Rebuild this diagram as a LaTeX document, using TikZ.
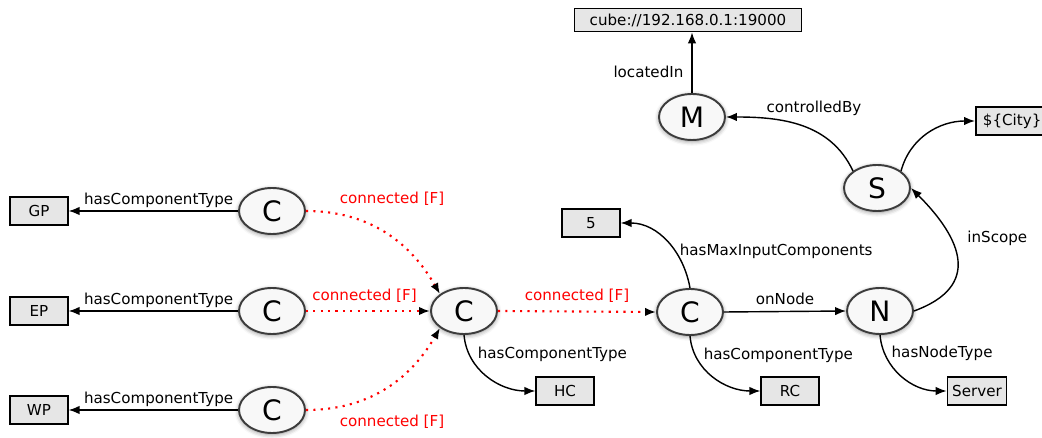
\documentclass[tikz,border=0pt]{standalone}
\usepackage{fontspec}
\setmainfont{DejaVu Sans}
\usepackage{tikz}
\usetikzlibrary{arrows.meta,positioning,shapes.geometric,shadows.blur}
\definecolor{entborder}{RGB}{60,60,60}
\definecolor{entfill}{RGB}{248,248,248}
\definecolor{litfill}{RGB}{230,230,230}
\definecolor{connred}{RGB}{255,0,0}
\tikzset{
  ent/.style={ellipse, draw=entborder, line width=1.1pt, fill=entfill,
    minimum width=1.32cm, minimum height=0.92cm, inner sep=0pt,
    font=\fontsize{16}{18}\selectfont,
    blur shadow={shadow xshift=0pt, shadow yshift=-0.8pt, shadow blur radius=2.5pt, shadow opacity=45}},
  lit/.style={rectangle, draw=black, line width=1pt, fill=litfill,
    minimum width=1.15cm, minimum height=0.57cm, inner sep=2pt,
    font=\fontsize{8.6}{10}\selectfont},
  rel/.style={font=\fontsize{8.6}{10}\selectfont, inner sep=1.5pt},
  link/.style={-{Latex[length=2.2mm,width=1.7mm]}, line width=0.8pt},
  conn/.style={-{Latex[length=2.2mm,width=1.7mm,color=black]}, draw=connred,
    line width=1.2pt, dash pattern=on 1.2pt off 3pt},
  connlbl/.style={rel, text=connred},
}
\begin{document}
\begin{tikzpicture}
  \useasboundingbox (0,0) rectangle (20.84,-8.76);
  % literal boxes
  \node[lit, minimum width=4.54cm, minimum height=0.46cm] (cube) at (13.76,-0.40) {cube://192.168.0.1:19000};
  \node[lit, anchor=west, minimum width=1.45cm] (city) at (19.50,-2.42) {\$\{City\}};
  \node[lit] (five) at (11.82,-4.46) {5};
  \node[lit] (gp) at (0.78,-4.22) {GP};
  \node[lit] (ep) at (0.78,-6.22) {EP};
  \node[lit] (wp) at (0.78,-8.20) {WP};
  \node[lit] (hc) at (11.30,-7.82) {HC};
  \node[lit] (rc) at (15.80,-7.82) {RC};
  \node[lit, minimum width=1.18cm] (server) at (19.54,-7.82) {Server};
  % entities
  \node[ent] (m) at (13.84,-2.34) {M};
  \node[ent] (s) at (17.54,-3.76) {S};
  \node[ent] (ca) at (5.44,-4.22) {C};
  \node[ent] (cb) at (5.44,-6.22) {C};
  \node[ent] (cc) at (5.44,-8.20) {C};
  \node[ent] (cmid) at (9.28,-6.22) {C};
  \node[ent] (cr) at (13.80,-6.24) {C};
  \node[ent] (n) at (17.60,-6.22) {N};
  % component types
  \draw[link] (ca) -- node[rel, above, xshift=3pt] {hasComponentType} (gp);
  \draw[link] (cb) -- node[rel, above, xshift=3pt] {hasComponentType} (ep);
  \draw[link] (cc) -- node[rel, above, xshift=3pt] {hasComponentType} (wp);
  % connections
  \draw[conn] (ca.east) to[out=0, in=120] node[connlbl, pos=0.05, anchor=south west, xshift=12pt, yshift=1pt] {connected [F]} (cmid.north west);
  \draw[conn] (cb.east) -- node[connlbl, above=3pt, xshift=-2pt] {connected [F]} (cmid.west);
  \draw[conn] (cc.east) to[out=0, in=-120] node[connlbl, pos=0.05, anchor=north west, xshift=12pt, yshift=-1pt] {connected [F]} (cmid.south west);
  \draw[conn] (cmid.east) -- node[connlbl, above=3pt] {connected [F]} (cr.west);
  \draw[link] (cmid.south) to[out=-85, in=180] node[rel, pos=0.2, anchor=west, xshift=3pt] {hasComponentType} (hc.west);
  % right part
  \draw[link] (cr.north) to[out=100, in=0] node[rel, pos=0.38, anchor=west, xshift=1pt] {hasMaxInputComponents} (five.east);
  \draw[link] (cr.south) to[out=-85, in=180] node[rel, pos=0.2, anchor=west, xshift=3pt] {hasComponentType} (rc.west);
  \draw[link] (cr.east) -- node[rel, above=2pt] {onNode} (n.west);
  \draw[link] (n.south) to[out=-85, in=180] node[rel, pos=0.2, anchor=west, xshift=2pt] {hasNodeType} (server.west);
  \draw[link] (n.east) to[out=20, in=-45, looseness=1.5] node[rel, pos=0.66, anchor=west, xshift=8pt] {inScope} (s.east);
  \draw[link] (s.north west) to[out=115, in=0] node[rel, pos=0.4, above=7pt] {controlledBy} (m.east);
  \draw[link] (s.north east) to[out=75, in=180] (city.west);
  \draw[link] (m.north) -- node[rel, left=3pt, pos=0.35] {locatedIn} (cube.south -| m.north);
\end{tikzpicture}
\end{document}
